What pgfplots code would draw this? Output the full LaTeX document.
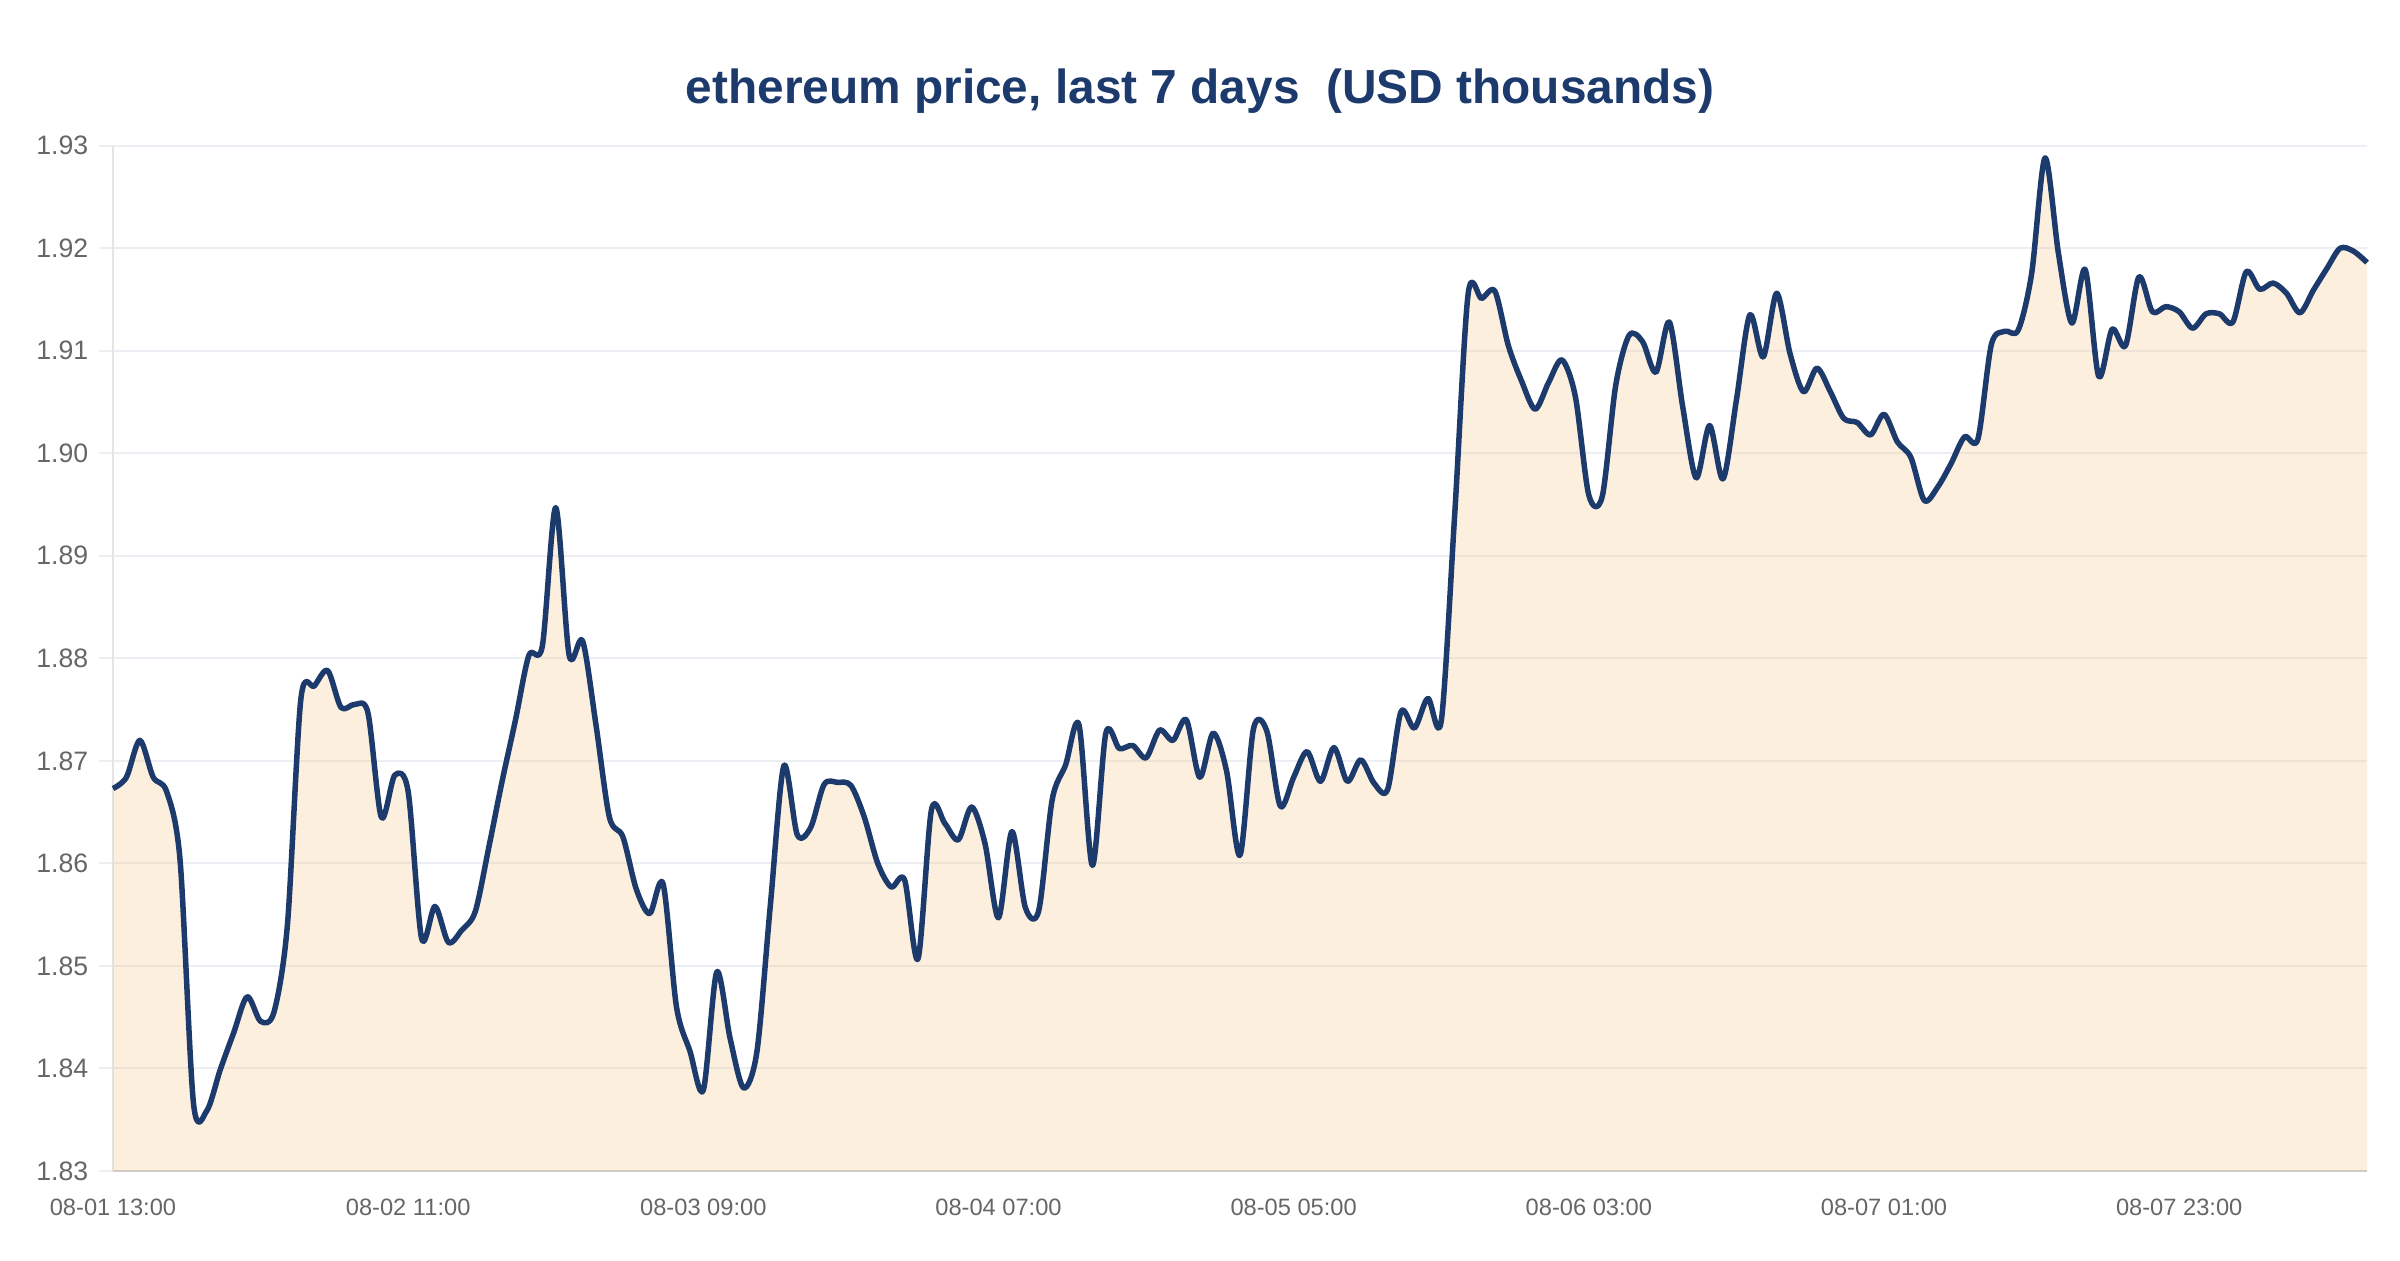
\documentclass[border=0pt]{standalone}
\usepackage{pgfplots}
\pgfplotsset{compat=1.18}
\usepackage{pgfplotstable}
\usepackage{fontspec}
\setmainfont{Liberation Sans}
\definecolor{navy}{HTML}{1D3A6C}
\definecolor{fillc}{HTML}{F7C382}
\definecolor{gridc}{HTML}{EBEEF3}
\definecolor{tickc}{HTML}{666666}
\pgfplotstableread{
h v
0 1.8673
1 1.8684
2 1.8720
3 1.8684
4 1.8670
5 1.8603
6 1.8366
7 1.8359
8 1.8399
9 1.8435
10 1.8470
11 1.8446
12 1.8455
13 1.8540
14 1.8760
15 1.8773
16 1.8788
17 1.8752
18 1.8755
19 1.8747
20 1.8645
21 1.8686
22 1.8670
23 1.8527
24 1.8558
25 1.8523
26 1.8535
27 1.8553
28 1.8615
29 1.8680
30 1.8740
31 1.8803
32 1.8812
33 1.8947
34 1.8803
35 1.8817
36 1.8735
37 1.8645
38 1.8626
39 1.8575
40 1.8551
41 1.8580
42 1.8460
43 1.8417
44 1.8379
45 1.8494
46 1.8429
47 1.8381
48 1.8417
49 1.8560
50 1.8695
51 1.8628
52 1.8635
53 1.8677
54 1.8679
55 1.8676
56 1.8645
57 1.8600
58 1.8577
59 1.8584
60 1.8507
61 1.8652
62 1.8639
63 1.8623
64 1.8655
65 1.8619
66 1.8547
67 1.8631
68 1.8557
69 1.8554
70 1.8662
71 1.8696
72 1.8735
73 1.8598
74 1.8727
75 1.8712
76 1.8715
77 1.8703
78 1.8730
79 1.8720
80 1.8740
81 1.8684
82 1.8727
83 1.8690
84 1.8608
85 1.8731
86 1.8729
87 1.8656
88 1.8684
89 1.8709
90 1.8680
91 1.8713
92 1.8680
93 1.8701
94 1.8678
95 1.8672
96 1.8748
97 1.8732
98 1.8761
99 1.8739
100 1.8940
101 1.9155
102 1.9151
103 1.9158
104 1.9105
105 1.9070
106 1.9043
107 1.9069
108 1.9091
109 1.9055
110 1.8959
111 1.8958
112 1.9066
113 1.9115
114 1.9109
115 1.9079
116 1.9128
117 1.9045
118 1.8976
119 1.9027
120 1.8975
121 1.9052
122 1.9135
123 1.9094
124 1.9156
125 1.9097
126 1.9060
127 1.9083
128 1.9060
129 1.9034
130 1.9030
131 1.9018
132 1.9038
133 1.9011
134 1.8996
135 1.8954
136 1.8967
137 1.8990
138 1.9016
139 1.9014
140 1.9106
141 1.9119
142 1.9120
143 1.9175
144 1.9288
145 1.9195
146 1.9127
147 1.9179
148 1.9075
149 1.9121
150 1.9105
151 1.9172
152 1.9138
153 1.9143
154 1.9138
155 1.9122
156 1.9136
157 1.9136
158 1.9128
159 1.9177
160 1.9160
161 1.9166
162 1.9156
163 1.9137
164 1.9159
165 1.9180
166 1.9200
167 1.9197
168 1.9186
}\eth
\begin{document}
\begin{tikzpicture}
\useasboundingbox (0,0) rectangle (720pt,378pt);
\node[anchor=base, font=\fontsize{14.35}{16}\selectfont\bfseries, text=navy, inner sep=0pt] at (360pt,347pt) {ethereum price, last 7 days\ \ (USD thousands)};
\begin{axis}[
  at={(33.9pt,26.7pt)}, anchor=south west,
  scale only axis, width=676.2pt, height=307.6pt,
  xmin=0, xmax=168, ymin=1.83, ymax=1.93,
  axis x line*=bottom, axis y line*=left,
  x axis line style={draw=black!20, line width=0.6pt, -},
  y axis line style={draw=black!10, line width=0.5pt, -},
  xtick={0,22,44,66,88,110,132,154},
  xticklabels={08-01 13:00,08-02 11:00,08-03 09:00,08-04 07:00,08-05 05:00,08-06 03:00,08-07 01:00,08-07 23:00},
  ytick={1.83,1.84,1.85,1.86,1.87,1.88,1.89,1.90,1.91,1.92,1.93},
  yticklabels={1.83,1.84,1.85,1.86,1.87,1.88,1.89,1.90,1.91,1.92,1.93},
  xtick style={draw=none},
  ytick style={draw=gridc, line width=0.6pt},
  tick align=outside, major tick length=4.2pt,
  ymajorgrids, major grid style={draw=gridc, line width=0.6pt},
  /pgf/number format/assume math mode=true,
  xticklabel style={font=\fontsize{7.1}{8}\selectfont, text=tickc, yshift=-0.8pt},
  yticklabel style={font=\fontsize{8}{9}\selectfont, text=tickc, xshift=0.3pt},
  clip=false,
]
\addplot[draw=none, fill=fillc, fill opacity=0.27, smooth, tension=0.5] table[x=h, y=v] {\eth} \closedcycle;
\addplot[navy, line width=1.65pt, smooth, tension=0.5, line join=round] table[x=h, y=v] {\eth};
\end{axis}
\end{tikzpicture}
\end{document}
